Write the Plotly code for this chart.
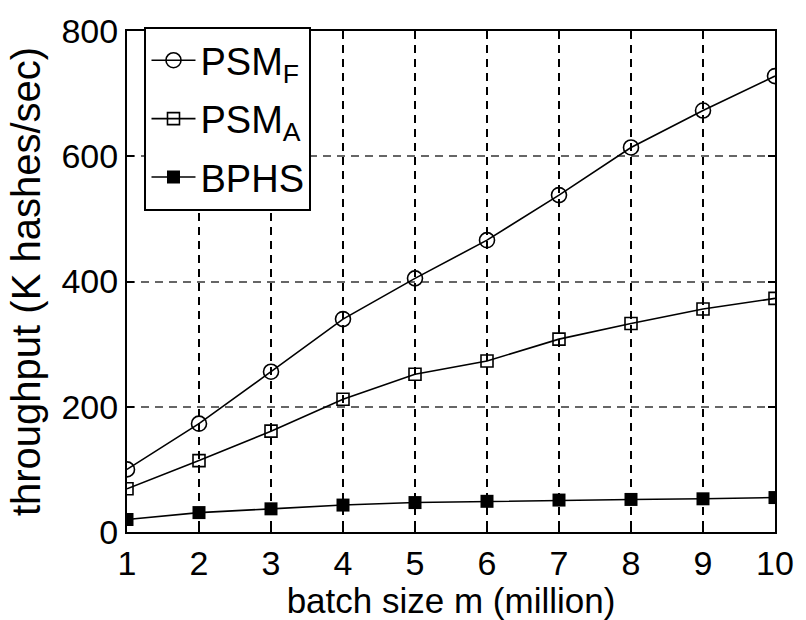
import plotly.graph_objects as go

batch_size = [1, 2, 3, 4, 5, 6, 7, 8, 9, 10]
psm_f = [100, 173, 256, 340, 405, 466, 538, 614, 673, 728]
psm_a = [69, 114, 161, 212, 252, 273, 308, 333, 356, 373]
bphs = [20, 31, 37, 43, 47, 49, 51, 52, 53, 55]

x_ticks = [1, 2, 3, 4, 5, 6, 7, 8, 9, 10]
y_ticks = [0, 200, 400, 600, 800]

FONT = "Liberation Sans, Arial, sans-serif"

fig = go.Figure()
fig.add_trace(go.Scatter(
    x=batch_size, y=psm_f, name="PSM<sub>F</sub>", mode="lines+markers",
    legendgroup="a",
    line=dict(color="black", width=1.6),
    marker=dict(symbol="circle-open", size=15, color="black", line=dict(width=1.6)),
))
fig.add_trace(go.Scatter(
    x=batch_size, y=psm_a, name="PSM<sub>A</sub>", mode="lines+markers",
    legendgroup="b",
    line=dict(color="black", width=1.6),
    marker=dict(symbol="square-open", size=12, color="black", line=dict(width=1.6)),
))
fig.add_trace(go.Scatter(
    x=batch_size, y=bphs, name="BPHS", mode="lines+markers",
    legendgroup="c",
    line=dict(color="black", width=1.6),
    marker=dict(symbol="square", size=13, color="black"),
))

fig.update_layout(
    width=806, height=620,
    margin=dict(l=127, r=22, t=26, b=84),
    paper_bgcolor="white", plot_bgcolor="white",
    font=dict(family=FONT, size=34, color="black"),
    showlegend=True,
    legend=dict(
        x=0.027, y=1.008, xanchor="left", yanchor="top",
        bgcolor="white", bordercolor="black", borderwidth=2,
        font=dict(family=FONT, size=38, color="black"),
        itemwidth=44, tracegroupgap=6,
    ),
)
fig.update_xaxes(
    range=[1, 10], tickvals=x_ticks, ticktext=[str(v) for v in x_ticks],
    showline=True, linecolor="black", linewidth=2, mirror="ticks",
    ticks="inside", ticklen=7, tickcolor="black", tickwidth=1.5,
    showgrid=True, gridcolor="black", griddash="8px,6px", gridwidth=1.5,
    zeroline=False,
    title=dict(text="batch size m (million)", standoff=2, font=dict(size=35)),
    tickfont=dict(size=34),
)
fig.update_yaxes(
    range=[0, 800], tickvals=y_ticks, ticktext=[str(v) for v in y_ticks],
    showline=True, linecolor="black", linewidth=2, mirror="ticks",
    ticks="inside", ticklen=7, tickcolor="black", tickwidth=1.5,
    showgrid=True, gridcolor="#666666", griddash="8px,6px", gridwidth=2,
    zeroline=False,
    title=dict(text="throughput (K hashes/sec)", standoff=8, font=dict(size=40)),
    tickfont=dict(size=34),
)

fig.write_html("out.html")
